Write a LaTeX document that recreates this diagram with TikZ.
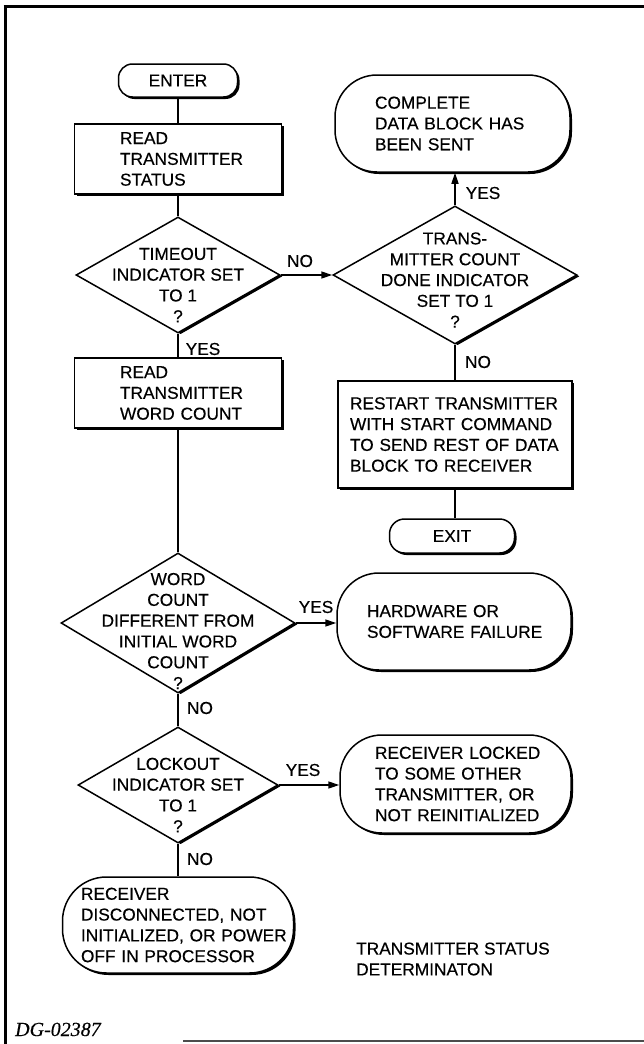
\documentclass[tikz,border=0pt]{standalone}
\usepackage{fontspec}
\setmainfont{Liberation Sans}[FakeBold=0.35]
\newfontfamily\dgserif{Liberation Serif}[FakeBold=0.3]
\usetikzlibrary{shapes.geometric,shadows,arrows.meta,calc}
\newcommand\lab{\fontsize{17.3}{20.8}\selectfont}
\newcommand\ml[1]{\mbox{#1}}
\hbadness=10000 \hfuzz=100pt
\begin{document}
\begin{tikzpicture}[x=1pt,y=-1pt,
  every node/.style={font=\lab},
  ln/.style={line width=1.5pt},
  arr/.style={ln,-{Triangle[length=11pt,width=7pt]}},
  box/.style={draw, fill=white, line width=1.5pt, inner sep=0pt, align=left,
    drop shadow={shadow xshift=2pt,shadow yshift=-2pt,opacity=1,fill=black}},
  term/.style={box, rounded corners=#1},
  dia/.style={diamond, draw, fill=white, line width=1.5pt, inner sep=0pt,
    drop shadow={shadow xshift=2.6pt,shadow yshift=-1.3pt,opacity=1,fill=black}},
  dtext/.style={align=center, inner sep=0pt},
  lbl/.style={inner sep=0pt}
]
\useasboundingbox (0,0) rectangle (644,1044);
\fill[white] (0,0) rectangle (644,1044);

% frame
\draw[line width=3.5pt] (3.5,6.5) -- (644,6.5);
\draw[line width=3pt] (5.5,5) -- (5.5,1044);
\draw[line width=2.2pt, black!70] (183,1041) -- (644,1041);

% left column
\node[term=14pt, minimum width=119pt, minimum height=33pt, align=center] (enter) at (178,80.5) {ENTER};
\node[box, minimum width=207pt, minimum height=70pt, text width=116pt] (readstat) at (178,159)
  {\ml{READ}\\\ml{TRANSMITTER}\\\ml{STATUS}};
\node[dia, minimum width=204pt, minimum height=116pt,
  label={[dtext,yshift=-10pt,name=timeoutt]center:TIMEOUT\\INDICATOR SET\\TO 1\\?}] (timeout) at (178,275) {};
\node[box, minimum width=207pt, minimum height=70pt, text width=116pt] (readwc) at (178,393)
  {\ml{READ}\\\ml{TRANSMITTER}\\\ml{WORD COUNT}};
\node[dia, minimum width=234pt, minimum height=140pt,
  label={[dtext,yshift=-8pt,name=wordt]center:WORD\\COUNT\\DIFFERENT FROM\\INITIAL WORD\\COUNT\\?}] (word) at (178,623) {};
\node[dia, minimum width=200pt, minimum height=116pt,
  label={[dtext,yshift=-10pt,name=lockoutt]center:LOCKOUT\\INDICATOR SET\\TO 1\\?}] (lockout) at (178,785) {};
\node[term=44pt, minimum width=231pt, minimum height=96pt, text width=194pt] (recdisc) at (178,925)
  {\ml{RECEIVER}\\\ml{DISCONNECTED, NOT}\\\ml{INITIALIZED, OR POWER}\\\ml{OFF IN PROCESSOR}};

% right column
\node[term=42pt, minimum width=235pt, minimum height=97pt, text width=155pt] (complete) at (452.5,123.5)
  {\ml{COMPLETE}\\\ml{DATA BLOCK HAS}\\\ml{BEEN SENT}};
\node[dia, minimum width=244pt, minimum height=138pt,
  label={[dtext,yshift=-5pt,name=transt]center:TRANS-\\MITTER COUNT\\DONE INDICATOR\\SET TO 1\\?}] (trans) at (455,275) {};
\node[box, minimum width=234pt, minimum height=107pt, text width=210pt] (restart) at (455,434.5)
  {\ml{RESTART TRANSMITTER}\\\ml{WITH START COMMAND}\\\ml{TO SEND REST OF DATA}\\\ml{BLOCK TO RECEIVER}};
\node[term=15pt, minimum width=125pt, minimum height=34pt, align=center] (exit) at (452,536) {EXIT};
\node[term=42pt, minimum width=234pt, minimum height=97pt, text width=174pt] (hardware) at (454,621.5)
  {\ml{HARDWARE OR}\\\ml{SOFTWARE FAILURE}};
\node[term=42pt, minimum width=231pt, minimum height=98pt, text width=161pt] (recvlock) at (455.5,784)
  {\ml{RECEIVER LOCKED}\\\ml{TO SOME OTHER}\\\ml{TRANSMITTER, OR}\\\ml{NOT REINITIALIZED}};

% captions
\node[anchor=west, align=left, inner sep=0pt] (title) at (356,959) {TRANSMITTER STATUS\\DETERMINATON};
\node[anchor=base west, inner sep=0pt, font=\dgserif\itshape\fontsize{20}{22}\selectfont] (dg) at (15,1036) {DG-02387};

% connector labels
\node[lbl] (no1) at (300,261) {NO};
\node[lbl] (yes1) at (203,349) {YES};
\node[lbl] (yes2) at (483,193) {YES};
\node[lbl] (no2) at (478,362) {NO};
\node[lbl] (yes3) at (316,607) {YES};
\node[lbl] (no3) at (200,708) {NO};
\node[lbl] (yes4) at (303,770) {YES};
\node[lbl] (no4) at (200,859) {NO};

% connectors
\draw[ln] (enter.south) -- (readstat.north);
\draw[ln] (readstat.south) -- (timeout.north);
\draw[ln] (timeout.south) -- (readwc.north);
\draw[ln] (readwc.south) -- (word.north);
\draw[ln] (word.south) -- (lockout.north);
\draw[ln] (lockout.south) -- (recdisc.north);
\draw[arr] (timeout.east) -- (trans.west);
\draw[arr] (trans.north) -- (trans.north |- complete.south);
\draw[ln] (trans.south) -- (trans.south |- restart.north);
\draw[ln] (restart.south -| trans.south) -- (exit.north -| trans.south);
\draw[arr] (word.east) -- (word.east -| hardware.west);
\draw[arr] (lockout.east) -- (lockout.east -| recvlock.west);
\end{tikzpicture}
\end{document}
